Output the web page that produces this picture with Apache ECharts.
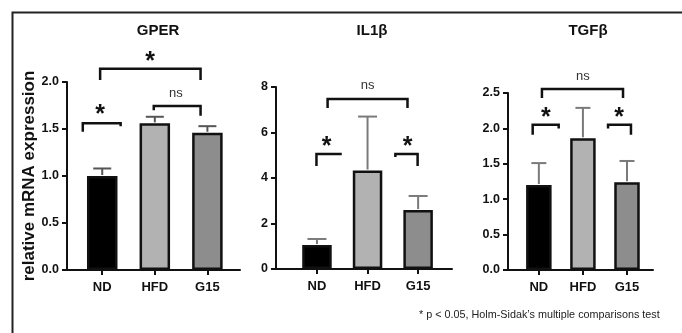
<!DOCTYPE html>
<html>
<head>
<meta charset="utf-8">
<script src="https://cdn.jsdelivr.net/npm/echarts@6/dist/echarts.min.js"></script>
<style>
  html, body { margin: 0; padding: 0; background: #fff; }
  #chart { width: 682px; height: 333px; }
</style>
</head>
<body>
<div id="chart"></div>
<script>
// groups on the x axis
var categories = ['ND', 'HFD', 'G15'];

// means and SD (upper error only)
var gperMean = [1.0, 1.56, 1.46];
var gperSd = [0.08, 0.07, 0.07];
var il1bMean = [1.05, 4.33, 2.59];
var il1bSd = [0.27, 2.37, 0.62];
var tgfbMean = [1.2, 1.86, 1.24];
var tgfbSd = [0.31, 0.43, 0.30];

// y axis ranges
var gperTicks = [0, 0.5, 1.0, 1.5, 2.0];
var il1bTicks = [0, 2, 4, 6, 8];
var tgfbTicks = [0, 0.5, 1.0, 1.5, 2.0, 2.5];

// significance brackets: [x from, x to, y, left leg end, right leg end]
var gperBrackets = [[-0.04, 1.87, 2.14, 2.02, 2.02], [0.98, 1.87, 1.745, 1.70, 1.64], [-0.37, 0.35, 1.56, 1.47, 1.53]];
var gperMarks = [[0.91, 2.27, '*'], [1.40, 1.88, 'ns'], [-0.04, 1.70, '*']];
var il1bBrackets = [[0.21, 1.79, 7.47, 7.08, 7.08], [-0.01, 0.49, 5.05, 4.53, 5.05], [1.55, 1.99, 5.05, 4.92, 4.53]];
var il1bMarks = [[1.0, 8.09, 'ns'], [0.19, 5.58, '*'], [1.79, 5.58, '*']];
var tgfbBrackets = [[0.07, 1.91, 2.556, 2.43, 2.43], [-0.14, 0.45, 2.05, 1.91, 2.0], [1.57, 2.09, 2.05, 2.0, 1.91]];
var tgfbMarks = [[1.0, 2.74, 'ns'], [0.16, 2.22, '*'], [1.82, 2.22, '*']];

var fills = ['#000000', '#b2b2b2', '#8d8d8d'];
var FONT = '"Liberation Sans", Arial, Helvetica, sans-serif';

var chart = echarts.init(document.getElementById('chart'));

function xAxisOf(idx, min, max) {
    return {
        type: 'value', gridIndex: idx, min: min, max: max,
        splitLine: { show: false },
        axisLine: { show: true, onZero: false, lineStyle: { color: '#111', width: 2 } },
        axisTick: { show: true, customValues: [0, 1, 2], length: 5, lineStyle: { color: '#111', width: 2 } },
        axisLabel: {
            customValues: [0, 1, 2], margin: 11,
            color: '#111', fontWeight: 'bold', fontSize: 13, fontFamily: FONT,
            formatter: function (v) { return categories[Math.round(v)]; }
        }
    };
}

function yAxisOf(idx, ticks, digits, name) {
    return {
        type: 'value', gridIndex: idx,
        min: ticks[0], max: ticks[ticks.length - 1], interval: ticks[1] - ticks[0],
        name: name || '', nameLocation: 'middle', nameGap: 26,
        nameTextStyle: { color: '#111', fontWeight: 'bold', fontSize: 17, fontFamily: FONT },
        splitLine: { show: false },
        axisLine: { show: true, onZero: false, lineStyle: { color: '#111', width: 2 } },
        axisTick: { show: true, length: 5, lineStyle: { color: '#111', width: 2 } },
        axisLabel: {
            margin: 8, color: '#111', fontWeight: 'bold', fontSize: 12.5, fontFamily: FONT,
            formatter: function (v) { return v.toFixed(digits); }
        }
    };
}

function barSeries(idx, mean, width) {
    return {
        type: 'bar', xAxisIndex: idx, yAxisIndex: idx, barWidth: width,
        data: mean.map(function (v, i) {
            return { value: [i, v], itemStyle: { color: fills[i] } };
        }),
        itemStyle: { borderColor: '#111', borderWidth: 2.5 },
        silent: true
    };
}

function errorSeries(idx, mean, sd, cap, color) {
    return {
        type: 'custom', xAxisIndex: idx, yAxisIndex: idx, z: 3,
        data: mean.map(function (v, i) { return [i, v, v + sd[i]]; }),
        renderItem: function (params, api) {
            var base = api.coord([api.value(0), api.value(1)]);
            var top = api.coord([api.value(0), api.value(2)]);
            var st = { stroke: color, lineWidth: 2 };
            return {
                type: 'group', children: [
                    { type: 'line', shape: { x1: base[0], y1: base[1] - 1, x2: top[0], y2: top[1] }, style: st },
                    { type: 'line', shape: { x1: top[0] - cap / 2, y1: top[1], x2: top[0] + cap / 2, y2: top[1] }, style: st }
                ]
            };
        }
    };
}

function bracketSeries(idx, brackets) {
    return {
        type: 'custom', xAxisIndex: idx, yAxisIndex: idx, z: 4,
        data: brackets,
        renderItem: function (params, api) {
            var a = api.coord([api.value(0), api.value(3)]);
            var b = api.coord([api.value(0), api.value(2)]);
            var c = api.coord([api.value(1), api.value(2)]);
            var d = api.coord([api.value(1), api.value(4)]);
            return {
                type: 'polyline',
                shape: { points: [a, b, c, d] },
                style: { stroke: '#111', lineWidth: 2.5, fill: null, lineJoin: 'miter' }
            };
        }
    };
}

function markSeries(idx, marks) {
    return {
        type: 'custom', xAxisIndex: idx, yAxisIndex: idx, z: 5,
        data: marks.map(function (m) { return [m[0], m[1]]; }),
        renderItem: function (params, api) {
            var p = api.coord([api.value(0), api.value(1)]);
            var txt = marks[params.dataIndex][2];
            var star = txt === '*';
            return {
                type: 'text',
                x: p[0], y: p[1] + (star ? 5 : 0),
                style: {
                    text: txt, align: 'center', verticalAlign: 'middle',
                    fill: star ? '#111' : '#333',
                    font: (star ? 'bold 25px ' : '13px ') + FONT
                }
            };
        }
    };
}

function titleOf(text, x) {
    return {
        text: text, left: x, top: 18, textAlign: 'center',
        textStyle: { color: '#111', fontWeight: 'bold', fontSize: 15, fontFamily: FONT }
    };
}

var option = {
    backgroundColor: '#fff',
    animation: false,
    title: [titleOf('GPER', 153), titleOf('IL1β', 367), titleOf('TGFβ', 583)],
    grid: [
        { left: 67, right: 442, top: 82, bottom: 63 },
        { left: 276, right: 230, top: 87, bottom: 64 },
        { left: 508, right: 29, top: 93, bottom: 63 }
    ],
    xAxis: [xAxisOf(0, -0.67, 2.62), xAxisOf(1, -0.81, 2.67), xAxisOf(2, -0.7, 2.59)],
    yAxis: [
        yAxisOf(0, gperTicks, 1, 'relative mRNA expression'),
        yAxisOf(1, il1bTicks, 0),
        yAxisOf(2, tgfbTicks, 1)
    ],
    series: [
        barSeries(0, gperMean, 30.5),
        barSeries(1, il1bMean, 29.5),
        barSeries(2, tgfbMean, 25.5),
        errorSeries(0, gperMean, gperSd, 18, '#555'),
        errorSeries(1, il1bMean, il1bSd, 19, '#7a7a7a'),
        errorSeries(2, tgfbMean, tgfbSd, 15, '#7a7a7a'),
        bracketSeries(0, gperBrackets),
        bracketSeries(1, il1bBrackets),
        bracketSeries(2, tgfbBrackets),
        markSeries(0, gperMarks),
        markSeries(1, il1bMarks),
        markSeries(2, tgfbMarks)
    ],
    graphic: [
        {
            type: 'rect', left: 10, top: 10, silent: true,
            shape: { width: 720, height: 400 },
            style: { fill: null, stroke: '#222', lineWidth: 2 }
        },
        {
            type: 'text', left: 419, top: 310,
            style: { text: '* p < 0.05, Holm-Sidak\u2019s multiple comparisons test', fill: '#222', font: '10.8px ' + FONT }
        }
    ]
};

chart.setOption(option);
</script>
</body>
</html>
